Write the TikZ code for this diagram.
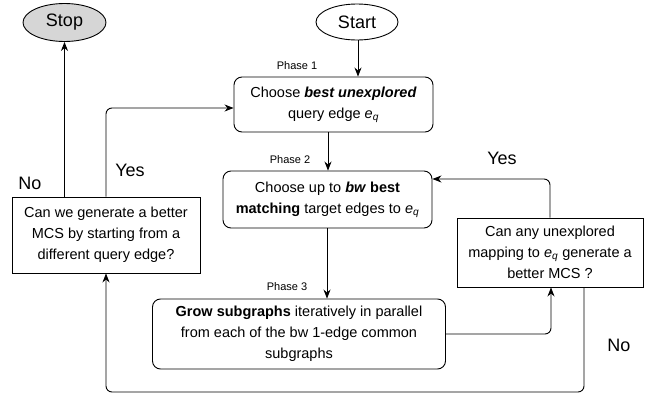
\documentclass[tikz,border=0pt]{standalone}
\usepackage{fontspec}
\setmainfont{Liberation Sans}
\usetikzlibrary{shapes.geometric,arrows.meta,calc}
\begin{document}
\begin{tikzpicture}[x=1pt,y=-1pt,
  box/.style={draw,line width=0.9pt,align=center,inner sep=0pt,font=\fontsize{14.5}{21}\selectfont},
  rbox/.style={box,rounded corners=8pt},
  term/.style={draw,ellipse,line width=0.9pt,inner sep=0pt,font=\fontsize{18}{20}\selectfont},
  arr/.style={-{Stealth[length=9pt,width=7pt]},line width=0.9pt,rounded corners=6pt},
  phase/.style={font=\fontsize{11}{13}\selectfont},
  lbl/.style={font=\fontsize{18}{20}\selectfont}]
\useasboundingbox (0,0) rectangle (654,399);
\node[term,fill=gray!32,minimum width=83pt,minimum height=38pt] (stop) at (64.5,22.5) {Stop};
\node[term,minimum width=82pt,minimum height=36pt] (start) at (357,22) {Start};
\node[rbox,minimum width=199pt,minimum height=55pt] (b1) at (333.5,104.5)
  {Choose \textbf{\textit{best unexplored}}\\query edge \textit{e\textsubscript{q}}};
\node[rbox,minimum width=209pt,minimum height=57pt] (b2) at (327.5,199.5)
  {Choose up to \textbf{\textit{bw}} \textbf{best}\\\textbf{matching} target edges to \textit{e\textsubscript{q}}};
\node[rbox,minimum width=293pt,minimum height=70pt] (b3) at (299,334)
  {\textbf{Grow subgraphs} iteratively in parallel\\from each of the bw 1-edge common\\subgraphs};
\node[box,minimum width=188pt,minimum height=76pt] (b4) at (106,235)
  {Can we generate a better\\MCS by starting from a\\different query edge?};
\node[box,minimum width=186pt,minimum height=69pt] (b5) at (550,252.5)
  {Can any unexplored\\mapping to \textit{e\textsubscript{q}} generate a\\better MCS ?};
\node[phase] (p1) at (297,66) {Phase 1};
\node[phase] (p2) at (290,160) {Phase 2};
\node[phase] (p3) at (287,287) {Phase 3};
\node[lbl] (yes1) at (130,170) {Yes};
\node[lbl] (no1) at (30,183) {No};
\node[lbl] (yes2) at (502,158) {Yes};
\node[lbl] (no2) at (619,345) {No};
\coordinate (lb) at (106,392);
\coordinate (rb) at (584,392);
\draw[arr] (start.south -| 358,0) -- (b1.north -| 358,0);
\draw[arr] (b1.south -| 328,0) -- (b2.north -| 328,0);
\draw[arr] (b2.south -| 327,0) -- (b3.north -| 327,0);
\draw[arr] (b3.east) -| (b5.south -| 551,0);
\draw[arr] (b5.north) |- ([yshift=20.5pt]b2.east);
\draw[arr] (b5.south -| rb) -- (rb) -- (lb) -- (b4.south);
\draw[arr] (stop.south |- b4.north) -- (stop.south);
\draw[arr] (b4.north) |- ([yshift=-3.5pt]b1.west);
\end{tikzpicture}
\end{document}
